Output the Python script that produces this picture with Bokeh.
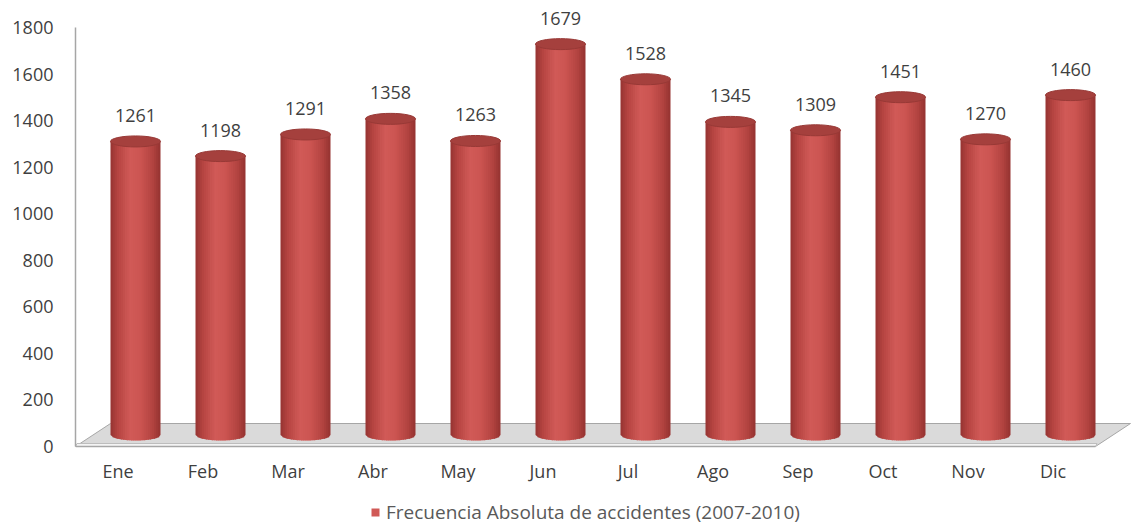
import numpy as np
from bokeh.plotting import figure
from bokeh.models import Range1d, FixedTicker, ColumnDataSource, Legend, LegendItem
from bokeh.embed import file_html
from bokeh.resources import INLINE
from bokeh.core.properties import value

# Monthly accident counts
months = ["Ene", "Feb", "Mar", "Abr", "May", "Jun", "Jul", "Ago", "Sep", "Oct", "Nov", "Dic"]
counts = [1261, 1198, 1291, 1358, 1263, 1679, 1528, 1345, 1309, 1451, 1270, 1460]
y_ticks = [0, 200, 400, 600, 800, 1000, 1200, 1400, 1600, 1800]
series_name = "Frecuencia Absoluta de accidentes (2007-2010)"

# Frame geometry (pixels) and conversion to data units
ZERO_PX = 446                  # pixel row of value 0, measured from the top
Y_MAX = 1915.8
UPP = Y_MAX / ZERO_PX          # data units per pixel (vertical)
Y_MIN = -(525 - ZERO_PX) * UPP
XPP = 1.0 / 85                 # data units per pixel (horizontal)
X_MAX = 12 + 40 * XPP

FONT = "Open Sans"
n = len(months)
front = np.arange(n) + 0.5

# pseudo-3D depth: floor is 35px deep to the right and 23px up
floor_dx, floor_dy = 35 * XPP, 23 * UPP
dx, dy = floor_dx / 2, floor_dy / 2
radius = 25 * XPP
cap_h = 11 * UPP

cx = front + dx
vals = np.array(counts, dtype=float)
tops = vals + dy
base = dy

p = figure(width=1138, height=525, output_backend="svg", toolbar_location=None,
           x_range=Range1d(0, X_MAX), y_range=Range1d(Y_MIN, Y_MAX),
           min_border_left=75, min_border_right=3, min_border_top=0, min_border_bottom=0)
p.outline_line_color = None
p.grid.visible = False
p.background_fill_color = "white"
p.border_fill_color = "white"

# floor slab
p.patch(x=[0, 12, 12 + floor_dx, floor_dx], y=[0, 0, floor_dy, floor_dy],
        fill_color="#dadada", line_color="#a6a6a6", line_width=1)
p.patch(x=[0, 12, 12 + 1.5 * XPP, 1.5 * XPP], y=[0, 0, 3 * UPP, 3 * UPP],
        fill_color="#f4f4f4", line_color="#bdbdbd", line_width=1)

# cylinder bodies as shaded vertical strips
stops_u = [0.0, 0.15, 0.4, 0.6, 0.85, 1.0]
stops_c = [(0x96, 0x34, 0x32), (0xb6, 0x45, 0x42), (0xd2, 0x5b, 0x58),
           (0xcc, 0x55, 0x52), (0xb2, 0x43, 0x40), (0x94, 0x33, 0x31)]


def shade(t):
    r = np.interp(t, stops_u, [c[0] for c in stops_c])
    g = np.interp(t, stops_u, [c[1] for c in stops_c])
    b = np.interp(t, stops_u, [c[2] for c in stops_c])
    return "#%02x%02x%02x" % (int(r), int(g), int(b))


NS = 24
edges = np.linspace(-1, 1, NS + 1)
overlap = 0.8 * XPP
xs, ys, cols = [], [], []
for i in range(n):
    for k in range(NS):
        u0, u1 = edges[k], edges[k + 1]
        b0 = base - cap_h / 2 * np.sqrt(max(0.0, 1 - u0 ** 2))
        b1 = base - cap_h / 2 * np.sqrt(max(0.0, 1 - u1 ** 2))
        x0 = cx[i] + radius * u0
        x1 = cx[i] + radius * u1 + (overlap if k < NS - 1 else 0)
        xs.append([x0, x1, x1, x0])
        ys.append([tops[i], tops[i], b1, b0])
        cols.append(shade((k + 0.5) / NS))

body_src = ColumnDataSource(dict(xs=xs, ys=ys, color=cols))
bodies = p.patches("xs", "ys", source=body_src, fill_color="color", line_color=None)

# cylinder caps
cap_src = ColumnDataSource(dict(x=cx, y=tops))
p.ellipse(x="x", y="y", width=2 * radius, height=cap_h, source=cap_src,
          fill_color="#a5403d", line_color="#983936", line_width=1)

# value labels
lab_src = ColumnDataSource(dict(x=cx, y=tops + 26 * UPP, t=[str(c) for c in counts]))
p.text(x="x", y="y", text="t", source=lab_src, text_align="center", text_baseline="middle",
       text_font=value(FONT), text_font_size="18px", text_color="#3f3f3f")

# y axis
p.yaxis.ticker = FixedTicker(ticks=y_ticks)
p.yaxis.bounds = (0, 1800)
p.yaxis.axis_line_color = "#a6a6a6"
p.yaxis.axis_line_width = 1.5
p.yaxis.major_tick_line_color = None
p.yaxis.minor_tick_line_color = None
p.yaxis.major_label_standoff = 16
p.yaxis.major_label_text_font = FONT
p.yaxis.major_label_text_font_size = "18px"
p.yaxis.major_label_text_color = "#3f3f3f"

# x axis with month names, drawn along the value-0 line
p.xaxis.fixed_location = 0
p.xaxis.ticker = FixedTicker(ticks=list(front))
p.xaxis.major_label_overrides = {float(t): m for t, m in zip(front, months)}
p.xaxis.bounds = (0, 12)
p.xaxis.axis_line_color = "#a6a6a6"
p.xaxis.axis_line_width = 1.5
p.xaxis.major_tick_line_color = None
p.xaxis.minor_tick_line_color = None
p.xaxis.major_label_standoff = 6
p.xaxis.major_label_text_font = FONT
p.xaxis.major_label_text_font_size = "18px"
p.xaxis.major_label_text_color = "#3f3f3f"

legend = Legend(items=[LegendItem(label=series_name, renderers=[bodies], index=10)],
                location=(295, 0), orientation="horizontal",
                glyph_width=10, glyph_height=10, padding=1, margin=0,
                label_standoff=6, border_line_color=None, background_fill_alpha=0,
                label_text_font=FONT, label_text_font_size="19px", label_text_color="#595959")
p.add_layout(legend, "center")

open("out.html", "w").write(file_html(p, INLINE))
